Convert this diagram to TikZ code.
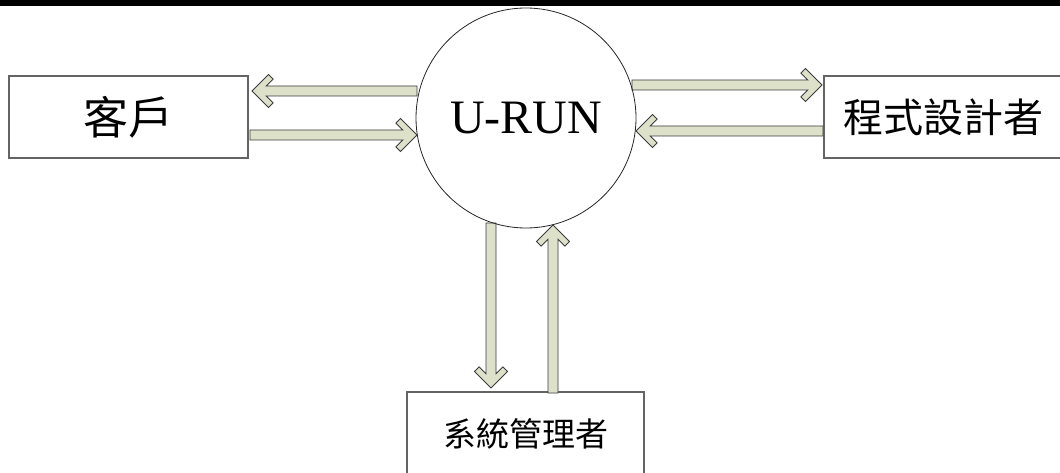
\documentclass[tikz,border=0pt]{standalone}
\usepackage{fontspec}
\setmainfont{Liberation Serif}
\newfontfamily\cjk{Noto Sans CJK TC}
\definecolor{arrowfill}{RGB}{221,225,201}
\definecolor{arrowline}{RGB}{60,60,60}
\definecolor{boxline}{RGB}{100,100,100}
\begin{document}
\begin{tikzpicture}[x=1pt,y=-1pt,
  boxstyle/.style={draw=boxline,line width=1.2pt,fill=white,inner sep=0pt},
  arrowstyle/.style={draw=arrowline,fill=arrowfill,line width=0.8pt,line join=miter},
  pics/barrow/.style={code={
    \draw[arrowstyle] (0,0) -- (-16.5,16.5) -- (-21.1,11.9) -- (-14.2,5) -- (-#1,5)
      -- (-#1,-5) -- (-14.2,-5) -- (-21.1,-11.9) -- (-16.5,-16.5) -- cycle;}}]
\useasboundingbox (0,0) rectangle (1060,473);
\clip (0,0) rectangle (1060,473);
\fill[white] (0,0) rectangle (1060,473);
\fill[black] (0,0) rectangle (1060,6);
% boxes
\node[boxstyle,minimum width=239pt,minimum height=82pt] (client) at (128.5,117) {\fontsize{45}{50}\selectfont\cjk 客戶};
\node[boxstyle,minimum width=238pt,minimum height=82pt] (prog) at (943,117) {\fontsize{40}{44}\selectfont\cjk 程式設計者};
\node[boxstyle,minimum width=237pt,minimum height=84pt] (admin) at (525.5,434) {\fontsize{33}{38}\selectfont\cjk 系統管理者};
% arrow end coordinates
\coordinate (t1) at (252,91);
\coordinate (t2) at (417,135);
\coordinate (t3) at (822,85);
\coordinate (t4) at (636,131);
\coordinate (t5) at (491,388);
\coordinate (t6) at (553,225);
% arrows
\pic[rotate=180] at (t1) {barrow=165};
\pic at (t2) {barrow=167};
\pic at (t3) {barrow=190};
\pic[rotate=180] at (t4) {barrow=187};
\pic[rotate=-90] at (t5) {barrow=165};
\pic[rotate=90] at (t6) {barrow=168};
% circle
\node[draw=black!85,line width=0.8pt,circle,minimum size=220pt,inner sep=0pt] (urun) at (526,118) {};
\node at (urun.center) {\fontsize{48}{54}\selectfont U-RUN};
\end{tikzpicture}
\end{document}
